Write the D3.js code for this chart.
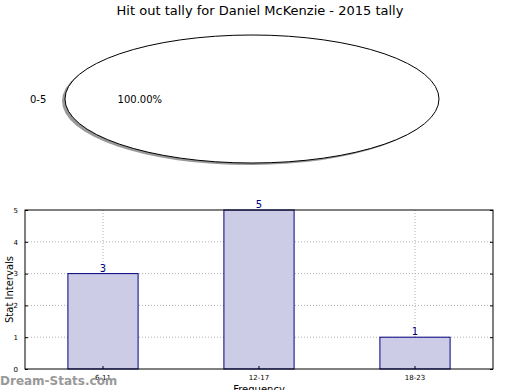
<!DOCTYPE html>
<html>
<head>
<script src="https://d3js.org/d3.v7.min.js"></script>
<style>
  body { margin: 0; background: #fff; }
  svg { font-family: "DejaVu Sans", sans-serif; }
  .grid line { stroke: #b0b0b0; stroke-dasharray: 1,2; }
</style>
</head>
<body>
<div id="chart"></div>
<script>
// pie data
const pieLabels = ["0-5"];
const pieValues = [1];

// bar data
const categories = ["6-11", "12-17", "18-23"];
const counts = [3, 5, 1];
const yTicks = [0, 1, 2, 3, 4, 5];

const W = 520, H = 390;
const svg = d3.select("#chart").append("svg")
  .attr("width", W).attr("height", H);

svg.append("text")
  .attr("x", 260).attr("y", 15)
  .attr("text-anchor", "middle")
  .style("font-size", "13px")
  .text("Hit out tally for Daniel McKenzie - 2015 tally");

// pie, squashed into an ellipse
const cx = 252, cy = 99, rx = 187, ry = 64;
const pie = d3.pie().sort(null).startAngle(Math.PI / 2).endAngle(Math.PI / 2 + 2 * Math.PI);
const slices = pie(pieValues);
const arc = d3.arc().innerRadius(0).outerRadius(1);

const shadow = svg.append("g")
  .attr("transform", `translate(${cx - 3},${cy + 2}) scale(${rx},${ry})`);
shadow.selectAll("path").data(slices).join("path")
  .attr("d", arc)
  .attr("fill", "#000").attr("opacity", 0.4);

const pg = svg.append("g")
  .attr("transform", `translate(${cx},${cy}) scale(${rx},${ry})`);
pg.selectAll("path").data(slices).join("path")
  .attr("d", arc)
  .attr("fill", "#fff")
  .attr("stroke", "#000")
  .attr("stroke-width", 1)
  .attr("vector-effect", "non-scaling-stroke");

const total = d3.sum(pieValues);
slices.forEach((s, i) => {
  const a = (s.startAngle + s.endAngle) / 2;
  const lx = cx + Math.sin(a) * rx * 1.1, ly = cy - Math.cos(a) * ry * 1.1;
  svg.append("text")
    .attr("x", lx).attr("y", ly).attr("dy", "0.35em")
    .attr("text-anchor", Math.sin(a) < 0 ? "end" : "start")
    .style("font-size", "10px")
    .text(pieLabels[i]);
  const px = cx + Math.sin(a) * rx * 0.6, py = cy - Math.cos(a) * ry * 0.6;
  svg.append("text")
    .attr("x", px).attr("y", py).attr("dy", "0.35em")
    .attr("text-anchor", "middle")
    .style("font-size", "10px")
    .text((pieValues[i] / total * 100).toFixed(2) + "%");
});

// bar chart
const m = { left: 25, right: 493, top: 210, bottom: 369 };
const x = d3.scaleBand().domain(categories).range([m.left, m.right]);
const y = d3.scaleLinear().domain([0, 5]).range([m.bottom, m.top]);
const barW = x.bandwidth() * 0.45;

const grid = svg.append("g").attr("class", "grid");
grid.selectAll(".h").data(yTicks.slice(1, -1)).join("line")
  .attr("x1", m.left).attr("x2", m.right)
  .attr("y1", d => y(d)).attr("y2", d => y(d));
grid.selectAll(".v").data(categories).join("line")
  .attr("x1", d => x(d) + x.bandwidth() / 2).attr("x2", d => x(d) + x.bandwidth() / 2)
  .attr("y1", m.top).attr("y2", m.bottom);

svg.append("g").selectAll("rect").data(counts).join("rect")
  .attr("x", (d, i) => x(categories[i]) + x.bandwidth() / 2 - barW / 2)
  .attr("y", d => y(d))
  .attr("width", barW)
  .attr("height", d => y(0) - y(d))
  .attr("fill", "#cccce6")
  .attr("stroke", "#000080")
  .attr("stroke-width", 1);

svg.append("g").selectAll("text").data(counts).join("text")
  .attr("x", (d, i) => x(categories[i]) + x.bandwidth() / 2)
  .attr("y", d => y(d) - 2)
  .attr("text-anchor", "middle")
  .attr("fill", "#000080")
  .style("font-size", "10px")
  .text(d => d);

// frame
svg.append("rect")
  .attr("x", m.left).attr("y", m.top)
  .attr("width", m.right - m.left).attr("height", m.bottom - m.top)
  .attr("fill", "none").attr("stroke", "#000").attr("stroke-width", 1);

// y axis (ticks inside)
const yAxis = svg.append("g").attr("transform", `translate(${m.left},0)`)
  .call(d3.axisLeft(y).tickValues(yTicks).tickFormat(d3.format("d")).tickSize(-3).tickPadding(7));
yAxis.select(".domain").remove();
yAxis.selectAll("text").style("font-size", "7px").style("font-family", "DejaVu Sans");
const yAxisR = svg.append("g").attr("transform", `translate(${m.right},0)`)
  .call(d3.axisRight(y).tickValues(yTicks).tickSize(-3).tickFormat(""));
yAxisR.select(".domain").remove();

const xAxis = svg.append("g").attr("transform", `translate(0,${m.bottom})`)
  .call(d3.axisBottom(x).tickSize(-3).tickPadding(6));
xAxis.select(".domain").remove();
xAxis.selectAll("text").style("font-size", "7px").style("font-family", "DejaVu Sans");

svg.append("text")
  .attr("transform", "rotate(-90)")
  .attr("x", -(m.top + m.bottom) / 2).attr("y", 13)
  .attr("text-anchor", "middle")
  .style("font-size", "10px")
  .text("Stat Intervals");

svg.append("text")
  .attr("x", (m.left + m.right) / 2 + 0).attr("y", 393)
  .attr("text-anchor", "middle")
  .style("font-size", "10px")
  .text("Frequency");

svg.append("text")
  .attr("x", 0).attr("y", 385)
  .attr("fill", "#999")
  .style("font-size", "12px")
  .style("font-weight", "bold")
  .text("Dream-Stats.com");
</script>
</body>
</html>
